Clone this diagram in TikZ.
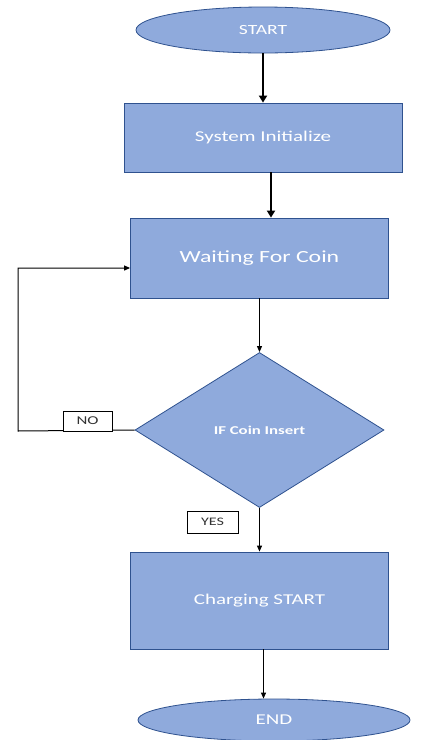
\documentclass[tikz,border=0pt]{standalone}
\usepackage{fontspec}
\setmainfont{Carlito}[FakeStretch=1.4]
\usetikzlibrary{shapes.geometric,arrows.meta}

\definecolor{boxblue}{RGB}{143,170,220}
\definecolor{edgeblue}{RGB}{47,82,143}

\tikzset{
  flow/.style={draw=edgeblue, fill=boxblue, text=white, inner sep=0pt, line width=0.8pt},
  term/.style={flow, ellipse},
  proc/.style={flow, rectangle},
  decide/.style={flow, diamond},
  tag/.style={draw, fill=white, inner sep=0pt, line width=0.8pt, text=black!80},
  link/.style={line width=1pt, -{Triangle[length=6pt,width=5pt]}},
  fat/.style={line width=2.6pt, -{Triangle[length=7pt,width=8pt]}}
}

\begin{document}
\begin{tikzpicture}[x=1pt, y=-1pt]
  \useasboundingbox (0,0) rectangle (424,740);

  \node[term, minimum width=254pt, minimum height=46pt] (start) at (263,30) {\fontsize{14}{16}\selectfont START};
  \node[proc, minimum width=278pt, minimum height=69pt] (sysinit) at (263,137.5) {\fontsize{15}{18}\selectfont System Initialize};
  \node[proc, minimum width=258pt, minimum height=80pt] (wait) at (259.5,258) {\fontsize{17}{20}\selectfont Waiting For Coin};
  \node[decide, minimum width=249pt, minimum height=155pt] (check) at (259.5,430) {\fontsize{12}{14}\selectfont\bfseries IF Coin Insert};
  \node[proc, minimum width=258pt, minimum height=97pt] (charge) at (259.5,600.5) {\fontsize{15}{18}\selectfont Charging START};
  \node[term, minimum width=272pt, minimum height=42pt] (stop) at (274,720) {\fontsize{15}{18}\selectfont END};

  \coordinate (bend) at (18,431);

  % main line
  \draw[fat] (start.south) -- (sysinit.north);
  \draw[fat] ([xshift=8pt]sysinit.south) -- ([xshift=8pt]sysinit.south |- wait.north);
  \draw[link] (wait.south) -- (check.north);
  \draw[link] (check.south) -- (charge.north);
  \draw[link] ([xshift=4pt]charge.south) -- ([xshift=4pt]charge.south |- stop.north);

  % back to waiting
  \draw[link] (check.west) -- (bend) |- ([yshift=-10pt]wait.west);

  \node[tag, minimum width=49pt, minimum height=20pt] (no) at (87.5,421) {\fontsize{12}{14}\selectfont NO};
  \node[tag, minimum width=51pt, minimum height=22pt] (yes) at (212.5,522) {\fontsize{11.5}{14}\selectfont YES};
\end{tikzpicture}
\end{document}
